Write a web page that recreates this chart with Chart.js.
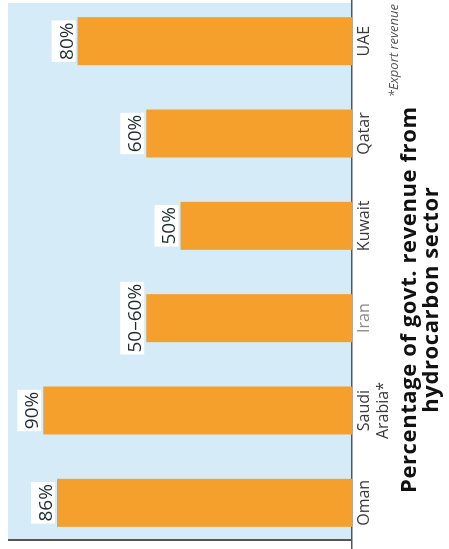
<!DOCTYPE html>
<html>
<head>
<meta charset="utf-8">
<script src="https://cdn.jsdelivr.net/npm/chart.js@4"></script>
<style>
    body { margin: 0; background: #fff; }
    #wrap { position: relative; width: 449px; height: 549px; overflow: hidden; background: #fff; }
    #panel { position: absolute; left: 8px; top: 3px; width: 344px; height: 536px; background: #d5ebf8; border-bottom: 2px solid #555; }
    #revenueChart { position: absolute; left: 0; top: 0; transform-origin: 0 0; transform: translateY(549px) rotate(-90deg); }
</style>
</head>
<body>
<div id="wrap">
    <div id="panel"></div>
    <canvas id="revenueChart" width="560" height="449"></canvas>
</div>
<script>
    "use strict";
    const categories = ['Oman', ['Saudi', 'Arabia*'], 'Iran', 'Kuwait', 'Qatar', 'UAE'];
    const revenueShare = [86, 90, 60, 50, 60, 80];
    const shareLabels = ['86%', '90%', '50–60%', '50%', '60%', '80%'];
    const titleLines = ['Percentage of govt. revenue from', 'hydrocarbon sector'];
    const footnote = '*Export revenue';

    const fontFamily = '"Open Sans", "Noto Sans", sans-serif';

    // value labels on white boxes at the end of each bar
    const valueLabels = {
        id: 'valueLabels',
        afterDatasetsDraw(chart) {
            const ctx = chart.ctx;
            const meta = chart.getDatasetMeta(0);
            ctx.save();
            ctx.font = '19px ' + fontFamily;
            ctx.textAlign = 'center';
            ctx.textBaseline = 'bottom';
            meta.data.forEach(function (bar, i) {
                const text = shareLabels[i];
                const w = ctx.measureText(text).width;
                ctx.fillStyle = '#ffffff';
                ctx.fillRect(bar.x - w / 2 - 2, bar.y - 26, w + 4, 24);
                ctx.fillStyle = '#1f2d2c';
                ctx.fillText(text, bar.x, bar.y - 1);
            });
            ctx.restore();
        }
    };

    // title under the axis and the footnote
    const captions = {
        id: 'captions',
        afterDraw(chart) {
            const ctx = chart.ctx;
            const area = chart.chartArea;
            ctx.save();
            ctx.fillStyle = '#111';
            ctx.textBaseline = 'middle';
            ctx.textAlign = 'center';
            ctx.font = 'bold 22px ' + fontFamily;
            ctx.letterSpacing = '0.6px';
            const cx = area.left + area.width * 0.45;
            ctx.fillText(titleLines[0], cx, chart.height - 39);
            ctx.fillText(titleLines[1], cx, chart.height - 17);
            ctx.letterSpacing = '0px';
            ctx.font = 'italic 13px ' + fontFamily;
            ctx.fillStyle = '#555';
            ctx.textAlign = 'right';
            ctx.fillText(footnote, area.right - 9, chart.height - 55);
            ctx.restore();
        }
    };

    const config = {
        type: 'bar',
        data: {
            labels: categories,
            datasets: [{
                data: revenueShare,
                backgroundColor: '#f5a02c',
                borderWidth: 0,
                categoryPercentage: 1,
                barPercentage: 0.52
            }]
        },
        options: {
            responsive: false,
            animation: false,
            layout: { padding: { left: 0, right: 6, top: 9, bottom: 0 } },
            plugins: {
                legend: { display: false },
                tooltip: { enabled: false }
            },
            scales: {
                x: {
                    grid: { display: false, drawTicks: false },
                    border: { display: true, color: '#555', width: 1.5 },
                    ticks: {
                        font: { family: fontFamily, size: 16, lineHeight: 1.2 },
                        color: function (ctx) { return ctx.index === 2 ? '#8a8a8a' : '#3a3a3a'; },
                        padding: 3,
                        maxRotation: 0,
                        autoSkip: false
                    },
                    afterFit: function (scale) { scale.height = 97; }
                },
                y: {
                    display: false,
                    min: 0,
                    max: 100
                }
            }
        },
        plugins: [valueLabels, captions]
    };

    new Chart(document.getElementById('revenueChart'), config);
</script>
</body>
</html>
